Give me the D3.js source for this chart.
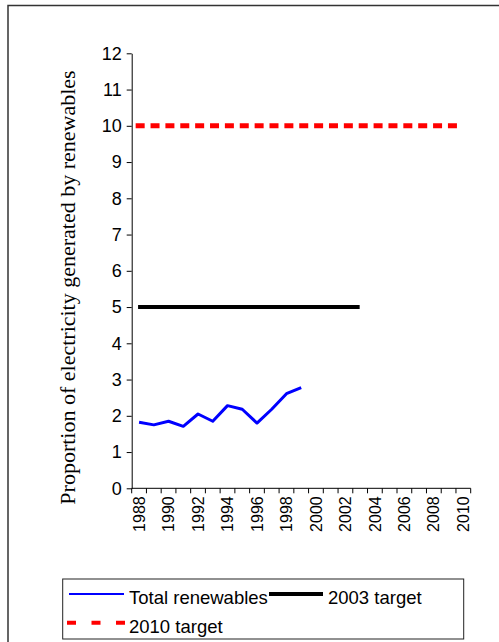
<!DOCTYPE html>
<html><head><meta charset="utf-8">
<script src="https://cdn.jsdelivr.net/npm/d3@7/dist/d3.min.js"></script>
<style>body{margin:0;background:#fff}svg{display:block}</style>
</head><body>
<script>
const years = d3.range(1988, 2011);
const renewYears = [1988,1989,1990,1991,1992,1993,1994,1995,1996,1997,1998,1999];
const renewValues = [1.82,1.75,1.85,1.71,2.05,1.85,2.28,2.18,1.80,2.18,2.61,2.78];
const target2003 = {value: 5, from: 1988, to: 2003};
const target2010 = {value: 10, from: 1988, to: 2010};
const yTicks = [0,1,2,3,4,5,6,7,8,9,10,11,12];
const yLabel = "Proportion of electricity generated by renewables";
const legendItems = ["Total renewables", "2003 target", "2010 target"];

const W = 499, H = 642;
const svg = d3.select("body").append("svg").attr("width", W).attr("height", H);

// outer frame
svg.append("path").attr("d", `M8,${H+2}V5.5H${W+2}`).attr("fill","none")
  .attr("stroke","#333").attr("stroke-width",1.5);

const pLeft = 131.7, pRight = 470.7, pTop = 53.3, pBottom = 488.3;
const x = d3.scaleBand().domain(years).range([pLeft, pRight]).padding(0);
const y = d3.scaleLinear().domain([0, 12]).range([pBottom, pTop]);
const cx = v => x(v) + x.bandwidth() / 2;
const sans = "'Liberation Sans', Arial, sans-serif";

// y axis
const ya = svg.append("g").attr("transform", `translate(${pLeft},0)`)
  .call(d3.axisLeft(y).tickValues(yTicks).tickSize(5).tickPadding(5).tickSizeOuter(0));
ya.attr("font-family", sans).attr("font-size", 18);
ya.select(".domain").attr("stroke","#000").attr("stroke-width",1);
ya.selectAll("line").attr("stroke","#000");
ya.selectAll("text").attr("fill","#000");

// x axis (category boundaries ticked)
const xa = svg.append("g").attr("transform", `translate(0,${pBottom})`)
  .attr("font-family", sans).attr("font-size", 16);
xa.append("line").attr("x1", pLeft).attr("x2", pRight).attr("stroke","#000");
const bounds = years.map(v => x(v)).concat([pRight]);
xa.selectAll("line.tk").data(bounds).join("line").attr("class","tk")
  .attr("x1", d => d).attr("x2", d => d).attr("y1", 0).attr("y2", 5).attr("stroke","#000");
xa.selectAll("text").data(years.filter(v => (v - 1988) % 2 === 0)).join("text")
  .attr("transform", d => `translate(${cx(d)},8) rotate(-90)`)
  .attr("text-anchor","end").attr("dy","0.35em")
  .text(d => d);

// y label
svg.append("text").attr("transform", "translate(75,287.5) rotate(-90)")
  .attr("text-anchor","middle").attr("font-family","'Liberation Serif','Times New Roman',serif")
  .attr("font-size",22).text(yLabel);

// 2010 target dashed
svg.append("line").attr("x1", cx(target2010.from) - 3.4).attr("x2", cx(target2010.to) - 6)
  .attr("y1", y(target2010.value)).attr("y2", y(target2010.value))
  .attr("stroke","#ff0000").attr("stroke-width",5)
  .attr("stroke-dasharray", "9 5.87");

// 2003 target
svg.append("line").attr("x1", cx(target2003.from) - 1).attr("x2", cx(target2003.to) - 0.5)
  .attr("y1", y(target2003.value)).attr("y2", y(target2003.value))
  .attr("stroke","#000").attr("stroke-width",4);

// renewables line
svg.append("path").datum(renewYears.map((v, i) => [v, renewValues[i]]))
  .attr("d", d3.line().x(d => cx(d[0])).y(d => y(d[1])))
  .attr("fill","none").attr("stroke","#0000ff").attr("stroke-width",3)
  .attr("stroke-linejoin","round");

// legend
const lg = svg.append("g").attr("font-family", sans).attr("font-size", 18.5);
lg.append("rect").attr("x",62.7).attr("y",579).attr("width",401).attr("height",60)
  .attr("fill","#fff").attr("stroke","#222").attr("stroke-width",1);
lg.append("line").attr("x1",69).attr("x2",124).attr("y1",594).attr("y2",594)
  .attr("stroke","#0000ff").attr("stroke-width",2);
lg.append("text").attr("x",129).attr("y",604).text(legendItems[0]);
lg.append("line").attr("x1",269).attr("x2",323).attr("y1",594).attr("y2",594)
  .attr("stroke","#000").attr("stroke-width",4);
lg.append("text").attr("x",328).attr("y",604).text(legendItems[1]);
lg.append("line").attr("x1",67).attr("x2",125).attr("y1",622.7).attr("y2",622.7)
  .attr("stroke","#ff0000").attr("stroke-width",4).attr("stroke-dasharray","9 15.5");
lg.append("text").attr("x",129).attr("y",632.7).text(legendItems[2]);
</script>
</body></html>
